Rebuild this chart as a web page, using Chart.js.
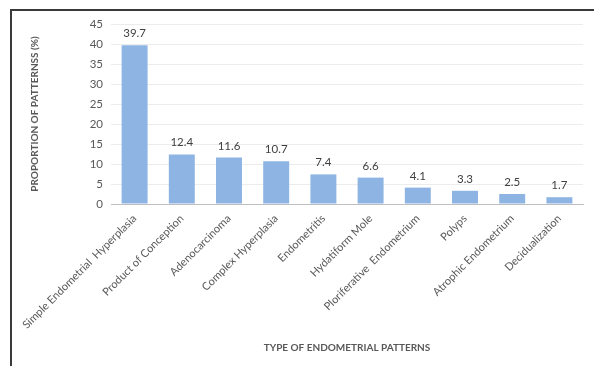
<!DOCTYPE html>
<html>
<head>
<meta charset="utf-8">
<script src="https://cdn.jsdelivr.net/npm/chart.js@4.4.1/dist/chart.umd.min.js"></script>
<style>
    html, body { margin: 0; padding: 0; background: #fff; }
    #wrap { position: relative; width: 594px; height: 366px; overflow: hidden; }
    #frame {
        position: absolute; left: 10px; top: 9px; right: -4px; bottom: -4px;
        border-left: 2px solid #3a3a3a; border-top: 2px solid #3a3a3a;
    }
    canvas { position: absolute; left: 0; top: 0; }
</style>
</head>
<body>
<div id="wrap">
    <div id="frame"></div>
    <canvas id="patternChart" width="594" height="366"></canvas>
</div>
<script>
// chart data
const categories = [
    'Simple Endometrial  Hyperplasia', 'Product of Conception', 'Adenocarcinoma',
    'Complex Hyperplasia', 'Endometritis', 'Hydatiform Mole',
    'Ploriferative  Endometrium', 'Polyps', 'Atrophic Endometrium', 'Decidualization'
];
const proportions = [39.7, 12.4, 11.6, 10.7, 7.4, 6.6, 4.1, 3.3, 2.5, 1.7];
const yTicks = [0, 5, 10, 15, 20, 25, 30, 35, 40, 45];

const FONT = "Lato, 'Liberation Sans', sans-serif";

// value labels above the bars
const barLabels = {
    id: 'barLabels',
    afterDatasetsDraw(chart) {
        const ctx = chart.ctx;
        const meta = chart.getDatasetMeta(0);
        ctx.save();
        ctx.font = '11.5px ' + FONT;
        ctx.fillStyle = '#404040';
        ctx.textAlign = 'center';
        ctx.textBaseline = 'bottom';
        meta.data.forEach((bar, i) => {
            ctx.fillText(proportions[i].toFixed(1), bar.x, bar.y - 6);
        });
        ctx.restore();
    }
};

document.addEventListener('DOMContentLoaded', () => {
    const ctx = document.getElementById('patternChart').getContext('2d');

    new Chart(ctx, {
        type: 'bar',
        data: {
            labels: categories,
            datasets: [{
                data: proportions,
                backgroundColor: '#8db4e2',
                barPercentage: 0.55,
                categoryPercentage: 1
            }]
        },
        options: {
            responsive: false,
            animation: false,
            layout: { padding: { left: 28, top: 24, right: 11, bottom: 0 } },
            plugins: {
                legend: { display: false },
                tooltip: { enabled: false }
            },
            scales: {
                y: {
                    min: 0,
                    max: 45,
                    afterBuildTicks: scale => {
                        scale.ticks = yTicks.map(v => ({ value: v }));
                    },
                    afterFit: scale => { scale.width = 83; },
                    grid: { color: '#ececec', drawTicks: false },
                    border: { display: false },
                    ticks: {
                        padding: 8,
                        color: '#595959',
                        font: { family: FONT, size: 11.5 }
                    },
                    title: {
                        display: true,
                        text: 'PROPORTION OF PATTERNSS (%)',
                        color: '#595959',
                        padding: { top: 1, bottom: 0 },
                        font: { family: FONT, size: 10, weight: 'bold' }
                    }
                },
                x: {
                    afterFit: scale => { scale.height = 162; },
                    grid: { display: false, drawTicks: false },
                    border: { display: true, color: '#bfbfbf', width: 1 },
                    ticks: {
                        autoSkip: false,
                        maxRotation: 45,
                        minRotation: 45,
                        padding: 8,
                        color: '#595959',
                        font: { family: FONT, size: 11 }
                    },
                    title: {
                        display: true,
                        text: 'TYPE OF ENDOMETRIAL PATTERNS',
                        color: '#595959',
                        padding: { top: 0, bottom: 12 },
                        font: { family: FONT, size: 10, weight: 'bold' }
                    }
                }
            }
        },
        plugins: [barLabels]
    });
});
</script>
</body>
</html>
